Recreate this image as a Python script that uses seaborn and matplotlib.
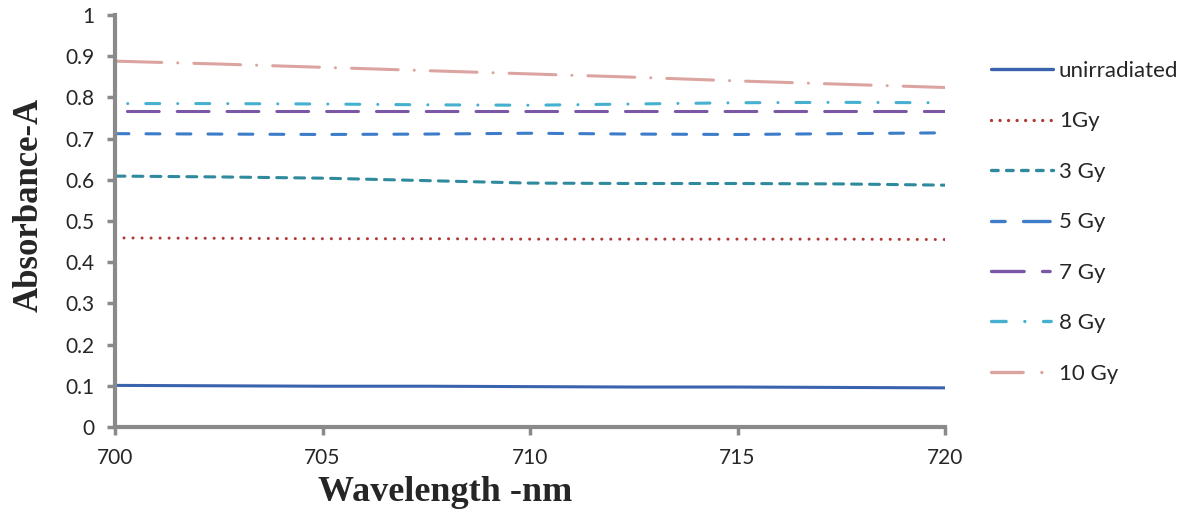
import matplotlib
matplotlib.use("Agg")
import matplotlib.pyplot as plt
from matplotlib.lines import Line2D
import seaborn as sns
import pandas as pd

# Wavelength points (nm) and absorbance readings for each dose
wavelength = [700, 702.5, 705, 707.5, 710, 712.5, 715, 717.5, 720]
unirradiated = [0.101, 0.100, 0.099, 0.099, 0.098, 0.097, 0.097, 0.096, 0.095]
gy1 = [0.459, 0.458, 0.457, 0.457, 0.456, 0.456, 0.456, 0.456, 0.455]
gy3 = [0.609, 0.607, 0.604, 0.598, 0.592, 0.591, 0.591, 0.590, 0.587]
gy5 = [0.712, 0.711, 0.710, 0.711, 0.713, 0.711, 0.710, 0.712, 0.714]
gy7 = [0.767, 0.767, 0.767, 0.767, 0.767, 0.767, 0.767, 0.767, 0.767]
gy8 = [0.785, 0.785, 0.784, 0.782, 0.781, 0.784, 0.787, 0.788, 0.787]
gy10 = [0.888, 0.881, 0.873, 0.865, 0.857, 0.849, 0.840, 0.832, 0.824]

labels = ["unirradiated", "1Gy", "3 Gy", "5 Gy", "7 Gy", "8 Gy", "10 Gy"]
series = [unirradiated, gy1, gy3, gy5, gy7, gy8, gy10]
colors = ["#3a63ad", "#b03a36", "#2e8a9c", "#3d7cc9", "#7a58a6", "#45b0cf", "#dca4a1"]
# line dash patterns (in linewidth units) for the plot
styles = [
    "-",
    (0, (0.01, 2.94)),
    (0, (3.25, 2.63)),
    (0, (4.56, 5.58)),
    (12.4, (10.4, 5.9)),
    (6.3, (4.56, 5.9, 0.01, 5.9)),
    (0, (15.3, 5.25, 0.01, 5.25)),
]
# patterns for the legend samples, as they look in the original key
legend_styles = [
    "-",
    (0, (0.01, 2.55)),
    (0, (2.0, 2.5)),
    (0, (4.1, 5.5, 8.0, 10)),
    (0, (9.8, 5.5, 2.3, 10)),
    (0, (4.4, 5.6, 0.01, 5.6, 2.3, 10)),
    (0, (9.5, 5.6, 0.01, 20)),
]

df = pd.DataFrame({"Wavelength": wavelength})
for lab, vals in zip(labels, series):
    df[lab] = vals

sns.set_style("white")
plt.rcParams['font.family'] = ['Lato', 'DejaVu Sans']

fig = plt.figure(figsize=(11.95, 5.15), dpi=100)
ax = fig.add_axes([115 / 1195, 1 - 427 / 515, 830 / 1195, 412 / 515])

for lab, col, ls in zip(labels, colors, styles):
    sns.lineplot(data=df, x="Wavelength", y=lab, ax=ax, color=col,
                 linestyle=ls, linewidth=2.2, label=lab, legend=False,
                 dash_capstyle="round")

ax.set_xlim(700, 720)
ax.set_ylim(0, 1)
ax.set_xticks([700, 705, 710, 715, 720])
ax.set_yticks([i / 10 for i in range(11)])
ax.set_yticklabels(["0"] + [f"{i / 10:.1f}" for i in range(1, 10)] + ["1"])

gray = "#8a8a8a"
for side in ["top", "right"]:
    ax.spines[side].set_visible(False)
for side in ["left", "bottom"]:
    ax.spines[side].set_color(gray)
    ax.spines[side].set_linewidth(3)
ax.tick_params(axis="both", direction="out", length=6, width=2.5, color=gray,
               labelsize=15, pad=9, left=True, bottom=True)

ax.set_xlabel("Wavelength -nm", family="Liberation Serif", fontweight="bold",
              fontsize=26)
ax.set_ylabel("Absorbance-A", family="Liberation Serif", fontweight="bold",
              fontsize=25)
ax.xaxis.set_label_coords(0.398, -0.12)
ax.yaxis.set_label_coords(-0.084, 0.539)

handles = [Line2D([], [], color=c, linestyle=ls, linewidth=2.4, dash_capstyle="round")
           for c, ls in zip(colors, legend_styles)]
fig.legend(handles, labels, loc="upper left", bbox_to_anchor=(971 / 1195, 1 - 41 / 515),
           frameon=False, fontsize=16, handlelength=2.8, labelspacing=1.37,
           handletextpad=0.25)

fig.savefig("out.png", dpi=100)
